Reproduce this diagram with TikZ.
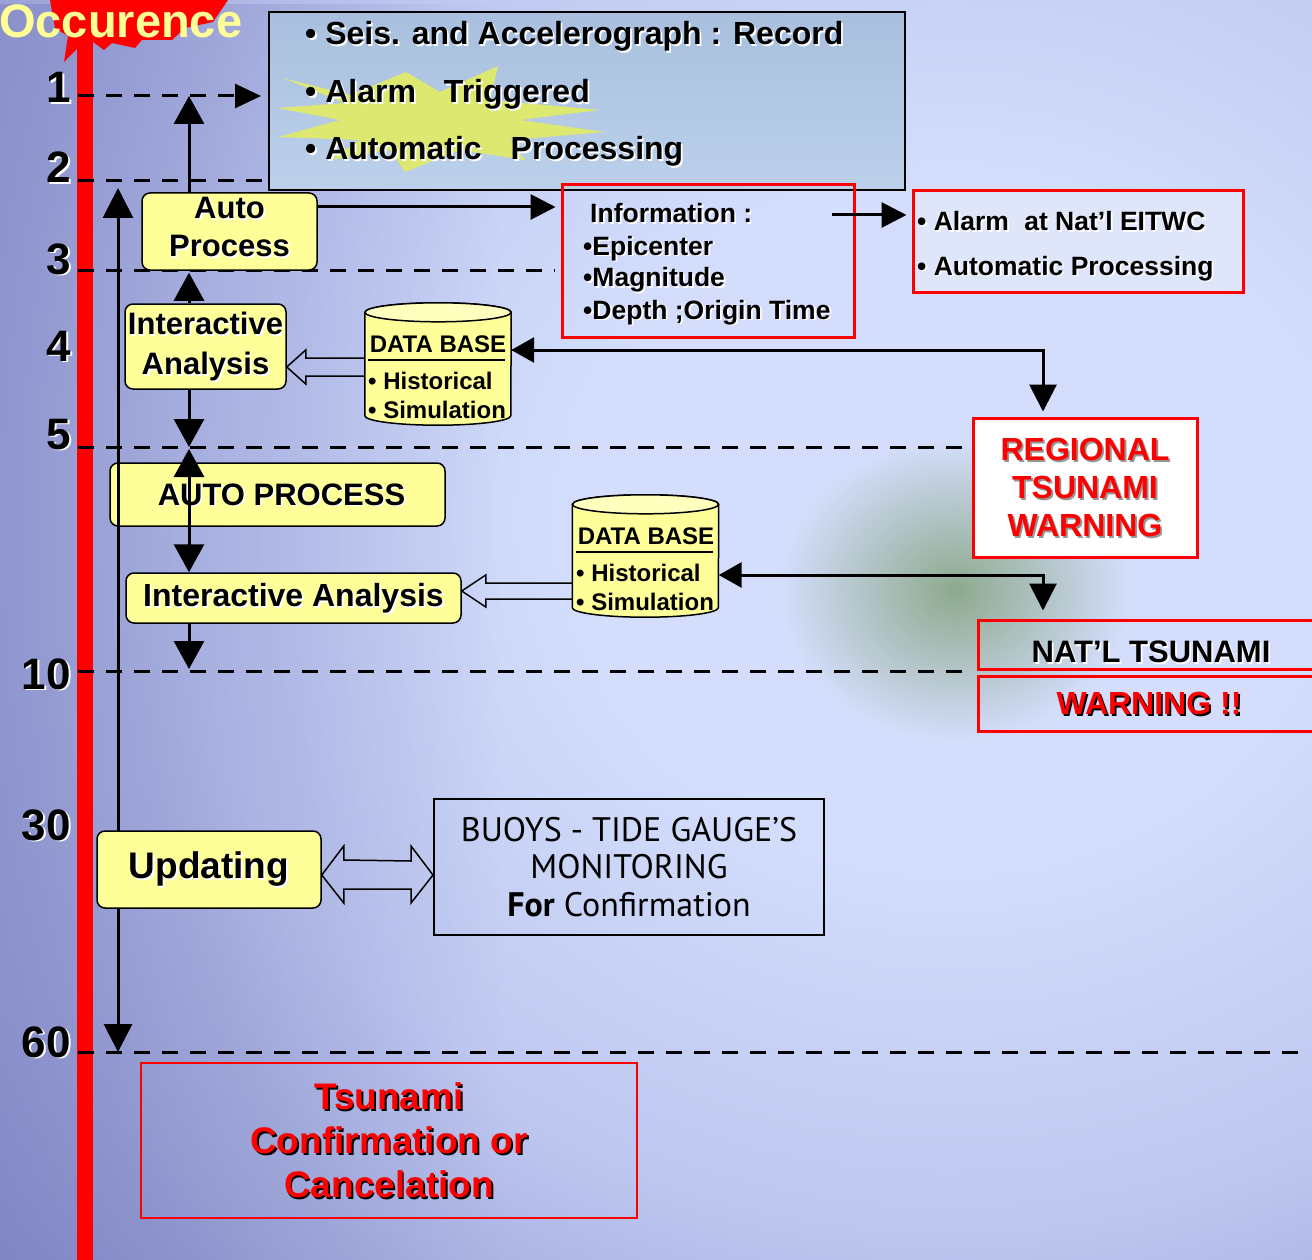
\documentclass[tikz,border=0pt]{standalone}
\usepackage{fontspec}
\setmainfont{Liberation Sans}
\newfontfamily\buoyfont{PT Sans}
\usetikzlibrary{arrows.meta,calc,fadings}

\definecolor{bgdark}{RGB}{128,134,196}
\definecolor{bgmid}{RGB}{160,168,218}
\definecolor{bgsoft}{RGB}{190,200,240}
\definecolor{bglight}{RGB}{212,222,252}
\definecolor{boxyellow}{RGB}{255,255,153}
\definecolor{capyellow}{RGB}{255,255,190}
\definecolor{steeltop}{RGB}{168,192,222}
\definecolor{steelbot}{RGB}{188,208,234}
\definecolor{starlime}{RGB}{220,232,112}
\definecolor{alarmfill}{RGB}{224,230,250}
\definecolor{blobgreen}{RGB}{130,160,122}
\definecolor{occyellow}{RGB}{255,255,150}
\definecolor{softgray}{RGB}{150,150,150}

\pgfdeclareradialshading{backdrop}{\pgfpoint{0bp}{0bp}}{color(0bp)=(bglight); color(8.8bp)=(bglight); color(19.4bp)=(bgsoft); color(26.5bp)=(bgmid); color(31.8bp)=(bgdark); color(50bp)=(bgdark)}
\tikzfading[name=blobfade, inner color=transparent!15, outer color=transparent!100]
\tikzfading[name=leftdeep, left color=transparent!0, right color=transparent!100]

\newcommand\fs[2]{\fontsize{#1}{#2}\selectfont}
% text with a small offset shadow in the given colour
\newcommand\shd[2]{\leavevmode\rlap{\hspace*{1.8pt}\raisebox{-1.8pt}[0pt][0pt]{\color{#1}#2}}#2}

\begin{document}
\begin{tikzpicture}[x=1pt,y=-1pt,
  txt/.style={inner sep=0pt},
  ybox/.style={draw=black, line width=1.5pt, fill=boxyellow, rounded corners=8pt, inner sep=0pt},
  dline/.style={line width=3pt, dash pattern=on 16pt off 12pt},
  arr/.style={line width=3pt, -{Triangle[length=28pt,width=30pt]}},
  darr/.style={line width=3pt, {Triangle[length=28pt,width=30pt]}-{Triangle[length=28pt,width=30pt]}},
  linkarr/.style={line width=3pt, {Triangle[length=23pt,width=25pt]}-{Triangle[length=27pt,width=27pt]}},
  sidearr/.style={line width=3pt, -{Triangle[length=25pt,width=25pt]}},
  hollow/.style={draw=black, line width=1.5pt, line join=miter},
  dbtext/.style={inner sep=0pt, font=\fs{24}{24}\bfseries},
  infotext/.style={inner sep=0pt, anchor=base west, font=\fs{26.5}{26.5}\bfseries},
]

\useasboundingbox (0,0) rectangle (1312,1260);

% backdrop
\begin{scope}
  \clip (0,0) rectangle (1312,1260);
  \shade[shading=backdrop] (-50,-380) rectangle (1950,1420);
  \fill[bgdark, path fading=leftdeep] (-300,0) rectangle (500,1260);
  \fill[blobgreen, path fading=blobfade] (955,590) ellipse [x radius=175, y radius=150];
\end{scope}

% time axis
\fill[red] (50,0) -- (228,0) -- (213,22) -- (185,28) -- (172,40) -- (142,40) -- (135,48)
  -- (112,43) -- (104,50) -- (93,42) -- (80,46) -- (64,62) -- (68,36) -- (55,28) -- cycle;
\fill[red] (77,0) rectangle (93,1260);
\node[txt, anchor=base west, text=occyellow, font=\fs{47}{47}\bfseries] (occ) at (-1,38) {Occurence};

\foreach \n/\y in {1/103, 2/183, 3/274, 4/361, 5/449, 10/689, 30/840, 60/1057}
  \node[txt, anchor=base east, font=\fs{44}{44}\bfseries] (num\n) at (71,\y) {\shd{white}{\n}};

\coordinate (L1) at (78,96);
\coordinate (L2) at (78,181);
\coordinate (L3) at (78,270);
\coordinate (L5) at (78,447);
\coordinate (L10) at (78,671);
\coordinate (L60) at (78,1052);
\coordinate (L60e) at (1300,1052);
\coordinate (x189) at (189,0);
\coordinate (vtop) at (118,188);
\coordinate (vbot) at (118,1052);

% boxes
\node[draw=black, line width=2pt, top color=steeltop, bottom color=steelbot,
      minimum width=636pt, minimum height=178pt, inner sep=0pt] (topbox) at (587,101) {};
\fill[starlime] (283,78) -- (350,95) -- (406,72) -- (440,92) -- (498,66) -- (490,100)
  -- (600,110) -- (520,120) -- (605,132) -- (510,140) -- (525,160) -- (460,150)
  -- (405,172) -- (390,150) -- (330,160) -- (360,140) -- (278,137) -- (340,120)
  -- (277,108) -- (345,103) -- cycle;
\node[txt, anchor=base west, font=\fs{32}{32}\bfseries] (rec) at (305,45) {\shd{white}{• Seis. and Accelerograph : Record}};
\node[txt, anchor=base west, font=\fs{32}{32}\bfseries] (trig) at (305,103) {\shd{white}{• Alarm\hspace{28pt}Triggered}};
\node[txt, anchor=base west, font=\fs{32}{32}\bfseries] (proc) at (305,160) {\shd{white}{• Automatic\hspace{29pt}Processing}};

% dashed time levels
\draw[dline, -{Triangle[length=26pt,width=24pt]}, shorten >=7pt] (L1) -- (L1 -| topbox.west);
\draw[dline] (L2) -- (L2 -| topbox.west);

\node[draw=red, line width=3pt, minimum width=292pt, minimum height=152pt, inner sep=0pt] (info) at (708,261) {};
\node[draw=red, line width=3pt, fill=alarmfill, minimum width=330pt, minimum height=101pt, inner sep=0pt] (alarm) at (1078,241.5) {};
\node[draw=red, line width=3pt, fill=white, minimum width=224pt, minimum height=139pt, inner sep=0pt,
      align=center, text=red, font=\fs{32}{38}\bfseries] (regional) at (1085,487.5)
  {\shd{softgray}{REGIONAL}\\\shd{softgray}{TSUNAMI}\\\shd{softgray}{WARNING}};
\node[draw=red, line width=3pt, minimum width=342pt, minimum height=49pt, inner sep=0pt] (nat1) at (1149,644.5) {};
\node[draw=red, line width=3pt, minimum width=342pt, minimum height=55pt, inner sep=0pt,
      text=red, font=\fs{32}{32}\bfseries] (nat2) at (1149,703.5) {\shd{black}{WARNING !!}};
\node[txt, font=\fs{31}{31}\bfseries] (natlbl) at (1151,652) {\shd{white}{NAT’L TSUNAMI}};

\draw[dline, shorten >=6pt] (L3) -- (L3 -| info.west);
\draw[dline, shorten >=8pt] (L5) -- (L5 -| regional.west);
\draw[dline, shorten >=8pt] (L10) -- (L10 -| nat1.west);
\draw[dline] (L60) -- (L60e);

\node[infotext] (inf0) at (590,223) {\shd{white}{Information :}};
\node[infotext] (inf1) at (583,255) {\shd{white}{•Epicenter}};
\node[infotext] (inf2) at (583,287) {\shd{white}{•Magnitude}};
\node[infotext] (inf3) at (583,319) {\shd{white}{•Depth ;Origin Time}};
\node[infotext] (al1) at (917,231) {\shd{white}{• Alarm\hspace{8pt} at Nat’l EITWC}};
\node[infotext] (al2) at (917,275) {\shd{white}{• Automatic Processing}};

\node[ybox, minimum width=175pt, minimum height=77pt] (ap1) at (229.5,231.5) {};
\node[txt, align=center, font=\fs{31}{38}\bfseries] (ap1t) at (229.5,227)
  {\shd{white}{Auto}\\\shd{white}{Process}};
\node[ybox, minimum width=161pt, minimum height=85pt, align=center, font=\fs{31}{40}\bfseries]
  (ia1) at (205.5,346.5) {\shd{white}{Interactive}\\\shd{white}{Analysis}};
\node[ybox, minimum width=335pt, minimum height=63pt, font=\fs{31}{31}\bfseries]
  (ap2) at (277.5,494.5) {\hspace{8pt}\shd{white}{AUTO PROCESS}};
\node[ybox, minimum width=335pt, minimum height=50pt, font=\fs{32}{32}\bfseries]
  (ia2) at (293.5,598) {\shd{white}{Interactive Analysis}};

% data bases
\newcommand\dbcyl[1]{%
  \draw[line width=1.5pt, fill=boxyellow]
    ($(#1.north west)+(0,9.5)$) -- ($(#1.south west)+(0,-9.5)$)
    arc[start angle=180, end angle=0, x radius=73, y radius=9.5]
    -- ($(#1.north east)+(0,9.5)$)
    arc[start angle=0, end angle=-180, x radius=73, y radius=9.5] -- cycle;
  \draw[line width=1.5pt, fill=capyellow] ($(#1.north)+(0,9.5)$) ellipse [x radius=73, y radius=9.5];
}
\node[minimum width=146pt, minimum height=122pt, inner sep=0pt] (db1) at (438,364) {};
\dbcyl{db1}
\node[dbtext, anchor=base] (db1t) at (438,352) {DATA BASE};
\draw[line width=2.5pt] (368,360) -- (505,360);
\node[dbtext, anchor=base west] (db1a) at (368,389) {• Historical};
\node[dbtext, anchor=base west] (db1b) at (368,418) {• Simulation};

\node[minimum width=146pt, minimum height=122pt, inner sep=0pt] (db2) at (645.5,556) {};
\dbcyl{db2}
\node[dbtext, anchor=base] (db2t) at (646,544) {DATA BASE};
\draw[line width=2.5pt] (576,552) -- (713,552);
\node[dbtext, anchor=base west] (db2a) at (576,581) {• Historical};
\node[dbtext, anchor=base west] (db2b) at (576,610) {• Simulation};

% hollow arrows from the data bases
\coordinate (h1s) at (db1.west |- 0,367);
\coordinate (h1t) at (ia1.east |- 0,367);
\draw[hollow] ($(h1s)+(0,-9)$) -- ($(h1t)+(19,-9)$) -- ($(h1t)+(19,-17)$) -- (h1t)
  -- ($(h1t)+(19,17)$) -- ($(h1t)+(19,9)$) -- ($(h1s)+(0,9)$);
\coordinate (h2s) at (db2.west |- 0,591);
\coordinate (h2t) at (ia2.east |- 0,591);
\draw[hollow] ($(h2s)+(0,-8)$) -- ($(h2t)+(24,-8)$) -- ($(h2t)+(24,-16)$) -- (h2t)
  -- ($(h2t)+(24,16)$) -- ($(h2t)+(24,8)$) -- ($(h2s)+(0,8)$);

% links to the warnings
\draw[linkarr, shorten >=5pt] ([yshift=14pt]db1.east) -| ([xshift=-42pt]regional.north);
\draw[linkarr, shorten >=8pt] ([yshift=-19pt]db2.east) -| ([xshift=-106pt]nat1.north);
\draw[sidearr, shorten >=5pt] (ap1.east |- 0,207) -- (info.west |- 0,207);
\draw[sidearr, shorten >=5pt] ($(info.east |- 0,215)+(-24,0)$) -- (alarm.west |- 0,215);

% flow along the processing column
\draw[arr] (ap1.north -| x189) -- (L1 -| x189);
\draw[arr, shorten >=2pt] (ia1.north -| x189) -- (ap1.south -| x189);
\draw[arr] (ia1.south -| x189) -- (L5 -| x189);
\draw[darr, shorten <=2pt] (L5 -| x189) -- (ia2.north -| x189);
\draw[arr, shorten >=2pt] (ia2.south -| x189) -- (L10 -| x189);

% overall span
\draw[line width=3pt, {Triangle[length=30pt,width=30pt]}-{Triangle[length=28pt,width=28pt]}] (vtop) -- (vbot);

\node[ybox, minimum width=224pt, minimum height=77pt, font=\fs{37}{37}\bfseries]
  (upd) at (209,869.5) {\shd{white}{Updating}};
\node[draw=black, line width=2pt, minimum width=390pt, minimum height=136pt, inner sep=0pt,
      align=center, font=\buoyfont\fs{34}{37.5}] (buoys) at (629,867)
  {BUOYS - TIDE GAUGE’S\\MONITORING\\{\bfseries For} Confirmation};
\coordinate (ua) at (upd.east |- 0,875);
\coordinate (ub) at (buoys.west |- 0,875);
\draw[hollow] (ua) -- ++(22,-29) -- ++(0,14) -- ($(ub)+(-22,-14)$) -- ++(0,-15) -- (ub)
  -- ++(-22,28) -- ++(0,-14) -- ($(ua)+(22,14)$) -- ++(0,14) -- cycle;

\node[draw=red, line width=2pt, minimum width=496pt, minimum height=155pt, inner sep=0pt,
      align=center, text=red, font=\fs{37}{44}\bfseries] (final) at (389,1140.5)
  {\shd{black}{Tsunami}\\\shd{black}{Confirmation or}\\\shd{black}{Cancelation}};

\end{tikzpicture}
\end{document}
